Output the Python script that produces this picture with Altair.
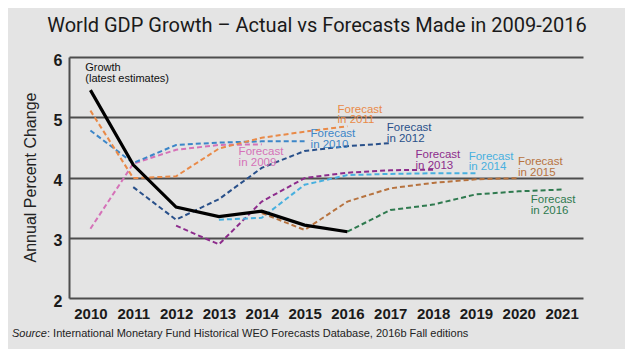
import altair as alt
import pandas as pd

# ---- data ----
growth_years = [2010, 2011, 2012, 2013, 2014, 2015, 2016]
growth_vals = [5.45, 4.21, 3.51, 3.35, 3.44, 3.21, 3.10]

f2009_years = [2010, 2011, 2012, 2013, 2014]
f2009_vals = [3.15, 4.23, 4.46, 4.54, 4.55]
f2010_years = [2010, 2011, 2012, 2013, 2014, 2015]
f2010_vals = [4.78, 4.24, 4.54, 4.58, 4.60, 4.60]
f2011_years = [2010, 2011, 2012, 2013, 2014, 2015, 2016]
f2011_vals = [5.11, 3.99, 4.02, 4.48, 4.66, 4.76, 4.85]
f2012_years = [2011, 2012, 2013, 2014, 2015, 2016, 2017]
f2012_vals = [3.84, 3.30, 3.64, 4.16, 4.44, 4.52, 4.57]
f2013_years = [2012, 2013, 2014, 2015, 2016, 2017, 2018]
f2013_vals = [3.20, 2.89, 3.60, 3.99, 4.08, 4.12, 4.13]
f2014_years = [2013, 2014, 2015, 2016, 2017, 2018, 2019]
f2014_vals = [3.30, 3.33, 3.88, 4.04, 4.06, 4.07, 4.07]
f2015_years = [2014, 2015, 2016, 2017, 2018, 2019, 2020]
f2015_vals = [3.41, 3.13, 3.60, 3.82, 3.91, 3.97, 3.99]
f2016_years = [2016, 2017, 2018, 2019, 2020, 2021]
f2016_vals = [3.10, 3.46, 3.55, 3.72, 3.77, 3.80]

series_names = ["2009", "2010", "2011", "2012", "2013", "2014", "2015", "2016"]
series_colors = ["#d572b8", "#3c86c8", "#e98a48", "#29508a",
                 "#8d2c8c", "#48b0df", "#b7733f", "#2f7a4f"]

label_texts = ["Forecast\nin 2009", "Forecast\nin 2010", "Forecast\nin 2011",
               "Forecast\nin 2012", "Forecast\nin 2013", "Forecast\nin 2014",
               "Forecast\nin 2015", "Forecast\nin 2016"]
label_x = [2013.46, 2015.14, 2015.77, 2016.92, 2017.59, 2018.83, 2019.98, 2020.28]
label_y = [4.52, 4.82, 5.22, 4.92, 4.47, 4.44, 4.35, 3.72]

growth_label = "Growth\n(latest estimates)"
growth_label_x = 2009.88
growth_label_y = 5.91

x_ticks = list(range(2010, 2022))
y_ticks = [2, 3, 4, 5, 6]

title_text = "World GDP Growth \u2013 Actual vs Forecasts Made in 2009-2016"
source_italic = "Source"
source_rest = ": International Monetary Fund Historical WEO Forecasts Database, 2016b Fall editions"

# ---- tables ----
fc_years = [f2009_years, f2010_years, f2011_years, f2012_years,
            f2013_years, f2014_years, f2015_years, f2016_years]
fc_vals = [f2009_vals, f2010_vals, f2011_vals, f2012_vals,
           f2013_vals, f2014_vals, f2015_vals, f2016_vals]
rows = []
for name, ys, vs in zip(series_names, fc_years, fc_vals):
    for yr, v in zip(ys, vs):
        rows.append({"series": name, "year": yr, "value": v})
fc_df = pd.DataFrame(rows)
growth_df = pd.DataFrame({"year": growth_years, "value": growth_vals})
lab_df = pd.DataFrame({"series": series_names, "text": label_texts,
                       "x": label_x, "y": label_y})
glab_df = pd.DataFrame({"text": [growth_label], "x": [growth_label_x], "y": [growth_label_y]})

FONT = "Liberation Sans"
xscale = alt.Scale(domain=[2009.5, 2021.5], nice=False, zero=False)
yscale = alt.Scale(domain=[2, 6], nice=False, zero=False)
cscale = alt.Scale(domain=series_names, range=series_colors)

xenc = alt.X("year:Q", scale=xscale,
             axis=alt.Axis(values=x_ticks, format="d", title=None, grid=False,
                           domain=False, ticks=False, tickSize=0, labelPadding=8,
                           labelFont=FONT, labelFontSize=15, labelFontWeight="bold",
                           labelColor="#1a1a1a", labelFlush=False))
yenc = alt.Y("value:Q", scale=yscale,
             axis=alt.Axis(values=y_ticks, format="d", title="Annual Percent Change",
                           grid=True, gridColor="#4d4d4d", gridWidth=2,
                           domain=True, domainColor="#4d4d4d", domainWidth=2,
                           ticks=False, tickSize=0, labelPadding=7, labelOffset=3,
                           labelFont=FONT, labelFontSize=16, labelFontWeight="bold",
                           labelColor="#1a1a1a",
                           titleFont=FONT, titleFontSize=16, titleFontWeight="normal",
                           titleColor="#222222", titleX=-39, titleY=120,
                           titleAngle=270, titleAlign="center", titleBaseline="middle"))

forecast = alt.Chart(fc_df).mark_line(strokeDash=[5, 3], strokeWidth=2).encode(
    x=xenc, y=yenc,
    color=alt.Color("series:N", scale=cscale, legend=None),
    detail="series:N",
)

growth = alt.Chart(growth_df).mark_line(color="#000000", strokeWidth=3.2).encode(
    x="year:Q", y="value:Q"
)

labels = alt.Chart(lab_df).mark_text(align="left", baseline="top", font=FONT,
                                     fontSize=11.5, lineHeight=10.5, lineBreak="\n").encode(
    x="x:Q", y="y:Q", text="text:N",
    color=alt.Color("series:N", scale=cscale, legend=None),
)

glabel = alt.Chart(glab_df).mark_text(align="left", baseline="top", font=FONT,
                                      fontSize=11, lineHeight=11, lineBreak="\n",
                                      color="#111111").encode(
    x="x:Q", y="y:Q", text="text:N"
)

title = alt.Chart(pd.DataFrame({"t": [title_text]})).mark_text(
    align="center", baseline="alphabetic", font="Roboto", fontSize=20,
    color="#1a1a1a").encode(x=alt.value(248), y=alt.value(-25), text="t:N")

src1 = alt.Chart(pd.DataFrame({"t": [source_italic]})).mark_text(
    align="left", baseline="alphabetic", font=FONT, fontSize=11, fontStyle="italic",
    color="#222222").encode(x=alt.value(-57), y=alt.value(280), text="t:N")
src2 = alt.Chart(pd.DataFrame({"t": [source_rest]})).mark_text(
    align="left", baseline="alphabetic", font=FONT, fontSize=11,
    color="#222222").encode(x=alt.value(-22), y=alt.value(280), text="t:N")

chart = alt.layer(forecast, growth, labels, glabel, title, src1, src2).properties(
    width=514, height=241,
    autosize=alt.AutoSizeParams(type="none"),
    padding={"left": 61, "top": 49, "right": 42, "bottom": 51},
    background="#e4e4e4",
).configure_view(stroke=None)

chart.save("out.html", embed_options={"renderer": "svg", "actions": False})
